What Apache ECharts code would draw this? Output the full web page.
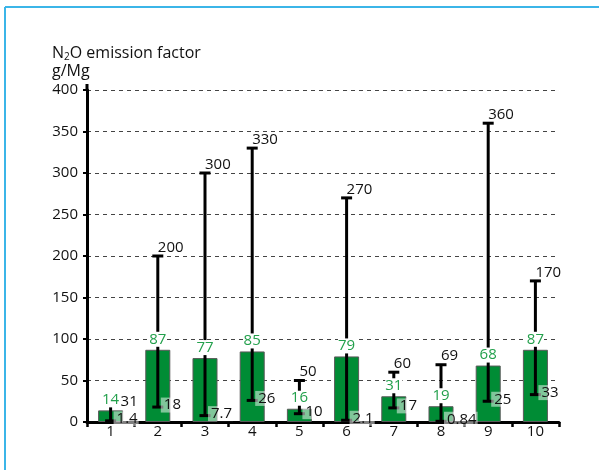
<!DOCTYPE html>
<html>
<head>
<meta charset="utf-8">
<script src="https://cdn.jsdelivr.net/npm/echarts@6/dist/echarts.min.js"></script>
<style>
  html, body { margin: 0; padding: 0; background: #fff; }
  #chart { width: 599px; height: 470px; }
</style>
</head>
<body>
<div id="chart"></div>
<script>
// Plant categories and N2O emission factors (g/Mg)
const categories = ['1', '2', '3', '4', '5', '6', '7', '8', '9', '10'];
const factorValues = [14, 87, 77, 85, 16, 79, 31, 19, 68, 87];
const lowValues = [1.4, 18, 7.7, 26, 10, 2.1, 17, 0.84, 25, 33];
const highValues = [31, 200, 300, 330, 50, 270, 60, 69, 360, 170];
const yAxisMax = 400;
const yAxisStep = 50;

const FONT = '"Open Sans", "Noto Sans", sans-serif';
const GREEN = '#008c35';
const LABEL_GREEN = '#23a04c';
const TEXT = '#111';
const GRID = { left: 87, right: 40, top: 90, bottom: 48 };

const chart = echarts.init(document.getElementById('chart'), null, { renderer: 'canvas' });

// Range whiskers with the min/max values written next to their caps
function renderRange(params, api) {
  const i = api.value(0);
  const lo = api.coord([i, api.value(1)]);
  const hi = api.coord([i, api.value(2)]);
  const top = api.coord([i, factorValues[i]]);
  const x = lo[0];
  const cap = 5.5;
  const line = { stroke: '#000', lineWidth: 3 };
  const crowded = top[1] - hi[1] < 22;
  return {
    type: 'group',
    children: [
      { type: 'line', shape: { x1: x, y1: lo[1], x2: x, y2: hi[1] }, style: line },
      { type: 'line', shape: { x1: x - cap, y1: hi[1], x2: x + cap, y2: hi[1] }, style: line },
      { type: 'line', shape: { x1: x - cap, y1: lo[1], x2: x + cap, y2: lo[1] }, style: line },
      {
        type: 'text',
        x: crowded ? x + 10 : x,
        y: crowded ? top[1] - 9 : hi[1] - 1,
        style: {
          text: String(highValues[i]), fill: TEXT, fontSize: 15, fontFamily: FONT,
          align: 'left', verticalAlign: crowded ? 'middle' : 'bottom'
        }
      },
      {
        type: 'text',
        x: x + 3,
        y: lo[1] - 2,
        style: {
          text: String(lowValues[i]), fill: TEXT, fontSize: 15, fontFamily: FONT,
          align: 'left', verticalAlign: 'middle',
          backgroundColor: 'rgba(255,255,255,0.5)', padding: [0, 1, 0, 3]
        }
      }
    ]
  };
}

// Emission factor printed above each bar
function renderValueLabel(params, api) {
  const i = api.value(0);
  const p = api.coord([i, api.value(1)]);
  return {
    type: 'text',
    x: p[0],
    y: p[1] - 3,
    style: {
      text: String(api.value(1)), fill: LABEL_GREEN, fontSize: 15, fontFamily: FONT,
      align: 'center', verticalAlign: 'bottom', backgroundColor: '#fff', padding: [0, 0, 0, 0]
    }
  };
}

const option = {
  animation: false,
  backgroundColor: '#fff',
  title: {
    left: 47,
    top: 39,
    text: '{t|N}{s|2}{t|O emission factor}\n{t|g/Mg}',
    textStyle: {
      fontWeight: 'normal',
      rich: {
        t: { fontSize: 16, fontFamily: FONT, fontWeight: 'normal', color: TEXT, lineHeight: 18 },
        s: { fontSize: 10, fontFamily: FONT, fontWeight: 'normal', color: TEXT, verticalAlign: 'bottom', lineHeight: 10 }
      }
    }
  },
  grid: GRID,
  xAxis: {
    type: 'category',
    data: categories,
    axisLine: { lineStyle: { color: '#000', width: 3 } },
    axisTick: { show: true, length: 5, lineStyle: { color: '#000', width: 2.5 } },
    axisLabel: { color: TEXT, fontSize: 15, fontFamily: FONT, margin: 2 },
    splitLine: { show: false }
  },
  yAxis: {
    type: 'value',
    min: 0,
    max: yAxisMax,
    interval: yAxisStep,
    axisLine: { show: true, lineStyle: { color: '#000', width: 3 } },
    axisTick: { show: true, length: 4, lineStyle: { color: '#000', width: 2 } },
    axisLabel: { color: TEXT, fontSize: 15, fontFamily: FONT, margin: 9 },
    splitLine: { show: true, lineStyle: { color: '#444', width: 1, type: [4, 4] } }
  },
  series: [
    {
      type: 'bar',
      data: factorValues,
      barWidth: '53%',
      z: 2,
      itemStyle: { color: GREEN, borderColor: '#5a5a5a', borderWidth: 1 }
    },
    {
      type: 'custom',
      z: 3,
      renderItem: renderRange,
      encode: { x: 0, y: [1, 2] },
      data: categories.map((c, i) => [i, lowValues[i], highValues[i]])
    },
    {
      type: 'custom',
      z: 4,
      renderItem: renderValueLabel,
      encode: { x: 0, y: 1 },
      data: categories.map((c, i) => [i, factorValues[i]])
    }
  ],
  graphic: [
    // frame lines along the top and left edge
    { type: 'line', shape: { x1: 5, y1: 7, x2: 599, y2: 7 }, style: { stroke: '#3bb5e8', lineWidth: 2 } },
    { type: 'line', shape: { x1: 5, y1: 7, x2: 5, y2: 470 }, style: { stroke: '#3bb5e8', lineWidth: 2 } },
    // value axis continues slightly past the top gridline
    { type: 'line', z: 10, shape: { x1: GRID.left, y1: GRID.top - 6, x2: GRID.left, y2: GRID.top }, style: { stroke: '#000', lineWidth: 3 } }
  ]
};

chart.setOption(option);
</script>
</body>
</html>
